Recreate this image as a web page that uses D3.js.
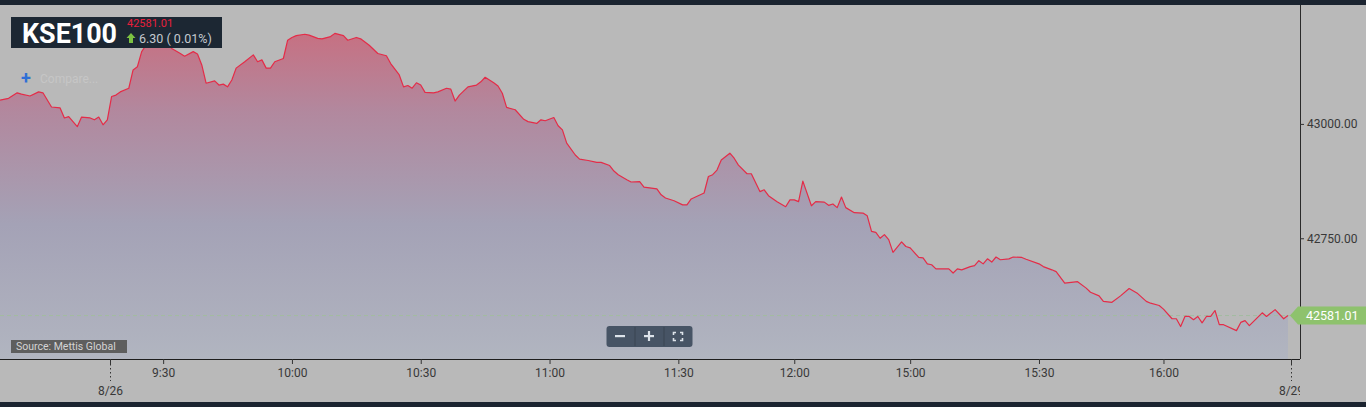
<!DOCTYPE html>
<html>
<head>
<meta charset="utf-8">
<script src="https://cdn.jsdelivr.net/npm/d3@7"></script>
<style>
  html, body { margin: 0; padding: 0; background: #b9b9b9; overflow: hidden; }
  svg { display: block; font-family: Roboto, "Noto Sans", sans-serif; }
</style>
</head>
<body>
<svg id="chart" width="1366" height="407"></svg>
<script>
// ---- data (trading-minute index within visible window, index value) ----
const idx = [0,2,4,5,7,9,10,12,14,15,16,18,19,21,22,23,24,25,
  26,27,28,30,31,32,33,34,36,37,38,39,40,42,43,45,46,47,48,50,51,52,53,54,55,57,59,60,61,62,63,64,66,
  67,68,69,71,72,74,75,77,78,80,81,83,84,86,88,90,91,93,94,95,96,97,98,99,101,102,104,105,106,107,109,111,112,113,115,116,117,118,120,122,123,125,126,127,129,130,131,132,134,135,137,139,140,142,143,144,146,147,149,150,153,154,155,157,159,160,161,164,165,166,167,168,170,171,172,174,175,177,178,179,181,183,184,185,186,187,189,190,192,193,194,195,196,197,199,201,202,203,204,
  205,206,207,208,210,211,212,214,215,216,217,218,221,222,223,224,226,227,228,229,230,231,232,233,235,236,238,239,242,243,245,246,248,250,251,253,254,256,257,259,261,263,265,267,268,270,271,273,274,275,276,277,278,279,280,281,282,283,284,285,288,289,290,291,294,295,297,299,300];
const values = [43052,43056,43068,43065,43061,43070,43068,43037,43035,43013,43016,42994,43015,43013,43009,43015,42998,43009,
  43060,43063,43070,43078,43118,43125,43158,43172,43175,43179,43172,43175,43165,43154,43148,43158,43153,43129,43089,43094,43085,43087,43081,43096,43122,43136,43151,43136,43140,43122,43122,43136,43143,
  43183,43189,43193,43196,43194,43187,43186,43191,43198,43193,43183,43189,43186,43172,43154,43149,43132,43107,43081,43084,43078,43090,43085,43069,43068,43070,43078,43076,43050,43063,43081,43085,43092,43102,43090,43083,43067,43036,43031,43010,43005,43001,43009,43007,43014,42996,42987,42958,42932,42923,42920,42916,42916,42909,42897,42889,42878,42873,42874,42862,42858,42845,42838,42832,42823,42823,42836,42849,42885,42889,42899,42921,42936,42925,42910,42891,42891,42852,42856,42843,42830,42819,42834,42834,42830,42875,42821,42830,42829,42822,42825,42817,42840,42817,42806,42805,42799,42765,42763,
  42750,42758,42747,42719,42742,42732,42729,42708,42707,42694,42692,42683,42683,42674,42683,42681,42688,42690,42701,42694,42705,42698,42709,42703,42705,42709,42708,42704,42694,42688,42681,42677,42652,42654,42655,42641,42632,42624,42612,42610,42624,42640,42629,42612,42608,42603,42595,42574,42574,42557,42579,42579,42572,42579,42565,42579,42579,42592,42561,42561,42548,42566,42570,42559,42587,42579,42594,42574,42581.01];

const tickIdx    = [38, 68, 98, 128, 158, 185, 212, 242, 271];
const tickLabels = ["9:30","10:00","10:30","11:00","11:30","12:00","15:00","15:30","16:00"];
const dayIdx     = [25.7, 300.6];
const dayLabels  = ["8/26","8/29"];
const yTicks     = [42750, 43000];
const lastPrice  = 42581.01;
const change     = "6.30 ( 0.01%)";
const symbol     = "KSE100";

// ---- layout ----
const svg = d3.select("#chart");
const W = 1366, H = 407;
const plot = {left: 0, right: 1300, top: 5, bottom: 359};

const x = d3.scaleLinear().domain([0, 302.8]).range([plot.left, plot.right]);
const y = d3.scaleLinear().domain([42486, 43260]).range([plot.bottom, plot.top]);

svg.append("rect").attr("width", W).attr("height", H).attr("fill", "#b9b9b9");

// gradient
const defs = svg.append("defs");
const grad = defs.append("linearGradient").attr("id", "areaGrad")
  .attr("gradientUnits", "userSpaceOnUse")
  .attr("x1", 0).attr("x2", 0).attr("y1", plot.top).attr("y2", plot.bottom);
[[0, "rgb(206,104,120)"], [0.3, "rgb(178,136,158)"], [0.62, "rgb(164,162,182)"], [1, "rgb(177,181,192)"]]
  .forEach(([o, c]) => grad.append("stop").attr("offset", o).attr("stop-color", c));
defs.append("clipPath").attr("id", "axisClip")
  .append("rect").attr("x", 0).attr("y", 0).attr("width", plot.right).attr("height", H);

const data = idx.map((i, k) => ({i, v: values[k]}));

const area = d3.area().x(d => x(d.i)).y0(plot.bottom).y1(d => y(d.v));
const line = d3.line().x(d => x(d.i)).y(d => y(d.v));

svg.append("path").datum(data).attr("d", area).attr("fill", "url(#areaGrad)");

// last price dashed line
svg.append("line")
  .attr("x1", plot.left).attr("x2", plot.right)
  .attr("y1", y(lastPrice)).attr("y2", y(lastPrice))
  .attr("stroke", "#a3bba0").attr("stroke-width", 1).attr("stroke-dasharray", "4,3");

svg.append("path").datum(data).attr("d", line)
  .attr("fill", "none").attr("stroke", "#e42c48").attr("stroke-width", 1.2)
  .attr("stroke-linejoin", "round");

// top & bottom dark bars
svg.append("rect").attr("x", 0).attr("y", 0).attr("width", W).attr("height", plot.top).attr("fill", "#1b2430");
svg.append("rect").attr("x", 0).attr("y", 402).attr("width", W).attr("height", 5).attr("fill", "#1b2430");

// right axis
const yAxis = d3.axisRight(y).tickValues(yTicks).tickSize(4).tickPadding(3)
  .tickFormat(d => d3.format(".2f")(d));
const gy = svg.append("g").attr("transform", `translate(${plot.right},0)`).call(yAxis);
gy.select(".domain").attr("d", `M0.5,${plot.top}V${plot.bottom}`).attr("stroke", "#2a2a2a");
gy.selectAll(".tick line").attr("stroke", "#333");
gy.selectAll(".tick text").attr("fill", "#383838").style("font-size", "12px").style("font-family", "Roboto, sans-serif");

// bottom axis
const xAxis = d3.axisBottom(x).tickValues(tickIdx).tickSize(5).tickPadding(4)
  .tickFormat((d, k) => tickLabels[k]);
const gx = svg.append("g").attr("transform", `translate(0,${plot.bottom})`).call(xAxis);
gx.select(".domain").attr("d", `M${plot.left},0.5H${plot.right}`).attr("stroke", "#1e1e1e");
gx.selectAll(".tick line").attr("stroke", "#333");
gx.selectAll(".tick text").attr("fill", "#383838").style("font-size", "12px").style("font-family", "Roboto, sans-serif");

// day boundary ticks (clipped at the right axis like the original)
const dg = svg.append("g").attr("clip-path", "url(#axisClip)")
  .selectAll("g").data(dayIdx).join("g")
  .attr("transform", d => `translate(${Math.round(x(d)) + 0.5},${plot.bottom})`);
dg.append("line").attr("y1", 0).attr("y2", 5).attr("stroke", "#333");
dg.append("line").attr("y1", 5).attr("y2", 22).attr("stroke", "#333").attr("stroke-dasharray", "1.5,2.5");
dg.append("text").attr("y", 36).attr("text-anchor", "middle")
  .attr("fill", "#383838").style("font-size", "12px").text((d, k) => dayLabels[k]);

// last price tag
const ty = y(lastPrice);
svg.append("path")
  .attr("d", `M1290,${ty} L1298,${ty - 9} H1366 V${ty + 9} H1298 Z`)
  .attr("fill", "#8ec26d");
svg.append("text").attr("x", 1306).attr("y", ty + 4.5)
  .attr("fill", "#ffffff").style("font-size", "12.5px").text(d3.format(".2f")(lastPrice));

// title box
const tb = svg.append("g");
tb.append("rect").attr("x", 11).attr("y", 17).attr("width", 211).attr("height", 31).attr("fill", "#1c2733");
tb.append("text").attr("x", 22).attr("y", 43).attr("fill", "#ffffff")
  .style("font-size", "27px").style("font-weight", "bold").attr("textLength", 95)
  .attr("lengthAdjust", "spacingAndGlyphs").text(symbol);
tb.append("text").attr("x", 127).attr("y", 27).attr("fill", "#e8203c")
  .style("font-size", "11px").text(d3.format(".2f")(lastPrice));
tb.append("path").attr("d", "M131,33 L135.5,38 H133 V43 H129 V38 H126.5 Z").attr("fill", "#7cc242");
tb.append("text").attr("x", 139).attr("y", 42.5).attr("fill", "#c5cad0")
  .style("font-size", "12.5px").text(change);

// compare
svg.append("text").attr("x", 21).attr("y", 84).attr("fill", "#2f6fd6")
  .style("font-size", "18px").style("font-weight", "bold").text("+");
svg.append("text").attr("x", 40).attr("y", 83).attr("fill", "#c6c6c6")
  .style("font-size", "12px").text("Compare...");

// source box
svg.append("rect").attr("x", 11).attr("y", 340).attr("width", 116).attr("height", 13).attr("fill", "#5e5e5e");
svg.append("text").attr("x", 16).attr("y", 350).attr("fill", "#d4d4d4")
  .style("font-size", "10.5px").text("Source: Mettis Global");

// zoom control
const zc = svg.append("g");
zc.append("rect").attr("x", 606.5).attr("y", 326).attr("width", 86).attr("height", 21).attr("rx", 3)
  .attr("fill", "#475465");
[635, 664].forEach(sx => zc.append("line").attr("x1", sx).attr("x2", sx).attr("y1", 327).attr("y2", 346)
  .attr("stroke", "#3a4552").attr("stroke-width", 1));
zc.append("rect").attr("x", 615).attr("y", 335).attr("width", 10).attr("height", 2.2).attr("fill", "#dde3ea");
zc.append("rect").attr("x", 644).attr("y", 335).attr("width", 10).attr("height", 2.2).attr("fill", "#dde3ea");
zc.append("rect").attr("x", 647.9).attr("y", 331).attr("width", 2.2).attr("height", 10).attr("fill", "#dde3ea");
zc.append("path")
  .attr("d", "M673.5,335 V332.5 H676 M680,332.5 H682.5 V335 M682.5,338 V340.5 H680 M676,340.5 H673.5 V338")
  .attr("fill", "none").attr("stroke", "#dde3ea").attr("stroke-width", 1.6);
</script>
</body>
</html>
